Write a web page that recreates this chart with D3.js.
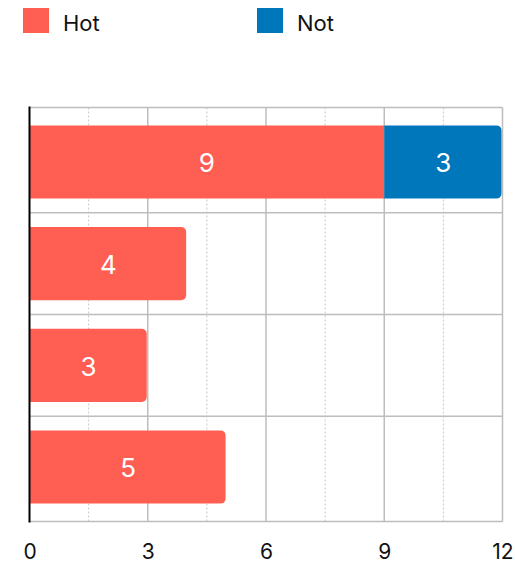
<!DOCTYPE html>
<html><head><meta charset="utf-8">
<script src="https://cdn.jsdelivr.net/npm/d3@7/dist/d3.min.js"></script>
<style>body{margin:0;background:#fff}svg{display:block}</style>
</head><body>
<svg id="c" width="515" height="565"></svg>
<script>
const categories = ["Row 1", "Row 2", "Row 3", "Row 4"];
const seriesNames = ["Hot", "Not"];
const hotValues = [9, 4, 3, 5];
const notValues = [3, 0, 0, 0];
const xTicks = [0, 3, 6, 9, 12];
const xMinorTicks = [1.5, 4.5, 7.5, 10.5];
const colors = ["#FF5E52", "#0077BB"];

(function () {
const FONT = "Inter, 'Liberation Sans', sans-serif";
const svg = d3.select("#c");
const pTop = 107.5, pBottom = 521.5, pLeft = 29.5, pRight = 502.5;

const x = d3.scaleLinear().domain([0, 12]).range([pLeft, pRight]);
const y = d3.scaleBand().domain(categories).range([pTop, pBottom]).paddingInner(0.28).paddingOuter(0.176);

// grid
const g = svg.append("g");
g.selectAll(".minor").data(xMinorTicks).join("line")
  .attr("x1", d => x(d)).attr("x2", d => x(d)).attr("y1", pTop).attr("y2", pBottom)
  .attr("stroke", "#c8c8c8").attr("stroke-width", 1).attr("stroke-dasharray", "2,2");
g.selectAll(".major").data(xTicks.slice(1)).join("line")
  .attr("x1", d => x(d)).attr("x2", d => x(d)).attr("y1", pTop).attr("y2", pBottom)
  .attr("stroke", "#bdbdbd").attr("stroke-width", 1.5);
const hLines = [pTop].concat(categories.slice(1).map(c => y(c) - y.step() * y.paddingInner() / 2)).concat([pBottom]);
g.selectAll(".h").data(hLines).join("line")
  .attr("x1", pLeft).attr("x2", pRight).attr("y1", d => d).attr("y2", d => d)
  .attr("stroke", "#bdbdbd").attr("stroke-width", 1.5);

// stacked data
const table = categories.map((c, i) => ({cat: c, Hot: hotValues[i], Not: notValues[i]}));
const stack = d3.stack().keys(seriesNames)(table);
const r = 5;
function segPath(x0, x1, y0, h, roundRight) {
  if (!roundRight) return `M${x0},${y0}H${x1}V${y0 + h}H${x0}Z`;
  const rr = Math.min(r, (x1 - x0));
  return `M${x0},${y0}H${x1 - rr}A${rr},${rr} 0 0 1 ${x1},${y0 + rr}V${y0 + h - rr}A${rr},${rr} 0 0 1 ${x1 - rr},${y0 + h}H${x0}Z`;
}
stack.forEach((layer, li) => {
  const segs = layer.filter(d => d[1] - d[0] > 0);
  svg.append("g").selectAll("path").data(segs).join("path")
    .attr("fill", colors[li])
    .attr("d", d => {
      const isLast = seriesNames.slice(li + 1).every(k => d.data[k] === 0);
      return segPath(x(d[0]), x(d[1]) - (isLast ? 1 : 0), y(d.data.cat), y.bandwidth(), isLast);
    });
  svg.append("g").selectAll("text").data(segs).join("text")
    .attr("x", d => (x(d[0]) + x(d[1])) / 2)
    .attr("y", d => y(d.data.cat) + y.bandwidth() / 2)
    .attr("dy", "0.4em")
    .attr("text-anchor", "middle")
    .attr("fill", "#fff")
    .attr("font-family", FONT).attr("font-size", 26)
    .text(d => d[1] - d[0]);
});

// left axis line
svg.append("line").attr("x1", pLeft).attr("x2", pLeft).attr("y1", pTop - 1).attr("y2", pBottom + 1)
  .attr("stroke", "#000").attr("stroke-width", 2);

// x axis labels
const xAxis = d3.axisBottom(x).tickValues(xTicks).tickSize(0).tickPadding(0);
const ax = svg.append("g").attr("transform", `translate(0,${pBottom})`).call(xAxis);
ax.select(".domain").remove();
ax.selectAll("text").attr("font-family", FONT).attr("font-size", 21).attr("fill", "#111")
  .attr("dy", null).attr("y", 37);

// legend
const legX = [23, 257];
const leg = svg.append("g");
seriesNames.forEach((s, i) => {
  leg.append("rect").attr("x", legX[i]).attr("y", 8).attr("width", 26).attr("height", 25).attr("fill", colors[i]);
  leg.append("text").attr("x", legX[i] + 40).attr("y", 31).attr("font-family", FONT)
    .attr("font-size", 22).attr("fill", "#111").text(s);
});
})();
</script>
</body></html>
